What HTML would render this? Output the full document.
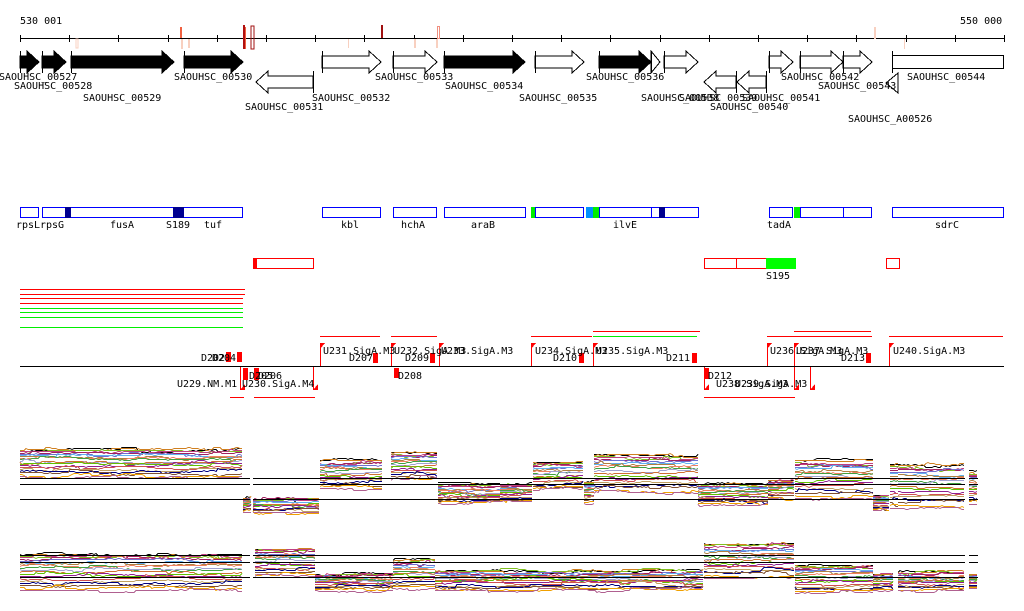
<!DOCTYPE html>
<html><head><meta charset="utf-8"><style>
html,body{margin:0;padding:0;background:#fff;width:1024px;height:611px;overflow:hidden}
svg{display:block}
text{font-family:"DejaVu Sans Mono","Liberation Mono",monospace;font-size:10px;fill:#000}
</style></head><body>
<svg id="s" width="1024" height="611" viewBox="0 0 1024 611" xmlns="http://www.w3.org/2000/svg" shape-rendering="crispEdges">
<text x="20" y="24">530 001</text>
<text x="960" y="24">550 000</text>
<line x1="20" y1="38.5" x2="1004" y2="38.5" stroke="#000"/>
<g id="ticks" stroke="#000"></g>
<rect x="76" y="39" width="2" height="9" fill="none" stroke="#f8d0c0"/>
<rect x="180" y="27" width="2" height="11" fill="#f06040"/>
<rect x="181" y="39" width="2" height="10" fill="#f8d0c0"/>
<rect x="188" y="39" width="2" height="9" fill="#f8d0c0"/>
<rect x="243" y="25" width="2" height="24" fill="#b01010"/>
<rect x="245" y="27" width="1" height="22" fill="#f06040"/>
<rect x="251" y="26" width="3" height="23" fill="none" stroke="#a01010"/>
<rect x="348" y="39" width="1" height="9" fill="#f8d0c0"/>
<rect x="381" y="25" width="2" height="13" fill="#a01010"/>
<rect x="414" y="39" width="2" height="9" fill="#f8d0c0"/>
<rect x="437.5" y="26.5" width="2" height="12" fill="none" stroke="#f09080"/>
<rect x="436" y="39" width="2" height="9" fill="#f8d0c0"/>
<rect x="874.5" y="27.5" width="1" height="11" fill="none" stroke="#f8d0c0"/>
<rect x="904" y="39" width="1" height="10" fill="#f8d0c0"/>
<g id="genes"></g>
<g>
<text x="-1" y="80">SAOUHSC_00527</text>
<text x="14" y="89">SAOUHSC_00528</text>
<text x="83" y="101">SAOUHSC_00529</text>
<text x="174" y="80">SAOUHSC_00530</text>
<text x="245" y="110">SAOUHSC_00531</text>
<text x="312" y="101">SAOUHSC_00532</text>
<text x="375" y="80">SAOUHSC_00533</text>
<text x="445" y="89">SAOUHSC_00534</text>
<text x="519" y="101">SAOUHSC_00535</text>
<text x="586" y="80">SAOUHSC_00536</text>
<text x="641" y="101">SAOUHSC_00538</text>
<text x="679" y="101">SAOUHSC_00539</text>
<text x="742" y="101">SAOUHSC_00541</text>
<text x="710" y="110">SAOUHSC_00540</text>
<text x="781" y="80">SAOUHSC_00542</text>
<text x="818" y="89">SAOUHSC_00543</text>
<text x="907" y="80">SAOUHSC_00544</text>
<text x="848" y="122">SAOUHSC_A00526</text>
</g>
<g fill="none" stroke="#0000ff">
<rect x="20.5" y="207.5" width="18" height="10"/>
<rect x="42.5" y="207.5" width="200" height="10"/>
<rect x="322.5" y="207.5" width="58" height="10"/>
<rect x="393.5" y="207.5" width="43" height="10"/>
<rect x="444.5" y="207.5" width="81" height="10"/>
<rect x="535.5" y="207.5" width="48" height="10"/>
<rect x="599.5" y="207.5" width="52" height="10"/>
<rect x="651.5" y="207.5" width="47" height="10"/>
<rect x="769.5" y="207.5" width="23" height="10"/>
<rect x="800.5" y="207.5" width="43" height="10"/>
<rect x="843.5" y="207.5" width="28" height="10"/>
<rect x="892.5" y="207.5" width="111" height="10"/>
</g>
<rect x="65" y="207" width="6" height="11" fill="#000090"/>
<rect x="173" y="207" width="11" height="11" fill="#000090"/>
<rect x="531" y="207" width="4" height="11" fill="#00ee00"/>
<rect x="586" y="207" width="7" height="11" fill="#0090ff"/>
<rect x="593" y="207" width="6" height="11" fill="#00ee00"/>
<rect x="659" y="207" width="6" height="11" fill="#000090"/>
<rect x="794" y="207" width="6" height="11" fill="#00ee00"/>
<text x="16" y="228">rpsL</text><text x="40" y="228">rpsG</text><text x="110" y="228">fusA</text>
<text x="166" y="228">S189</text><text x="204" y="228">tuf</text><text x="341" y="228">kbl</text>
<text x="401" y="228">hchA</text><text x="471" y="228">araB</text><text x="613" y="228">ilvE</text>
<text x="767" y="228">tadA</text><text x="935" y="228">sdrC</text>
<g fill="none" stroke="#ff0000">
<rect x="253.5" y="258.5" width="60" height="10"/>
<rect x="704.5" y="258.5" width="32" height="10"/>
<rect x="736.5" y="258.5" width="30" height="10"/>
<rect x="886.5" y="258.5" width="13" height="10"/>
</g>
<rect x="253" y="258" width="4" height="11" fill="#ff0000"/>
<rect x="766" y="258" width="30" height="11" fill="#00ff00"/>
<text x="766" y="279">S195</text>
<g stroke-width="1">
<line x1="20" y1="289.5" x2="245" y2="289.5" stroke="#f00"/>
<line x1="20" y1="294.5" x2="245" y2="294.5" stroke="#f00"/>
<line x1="20" y1="298.5" x2="243" y2="298.5" stroke="#f00"/>
<line x1="20" y1="303.5" x2="243" y2="303.5" stroke="#f00"/>
<line x1="20" y1="308.5" x2="243" y2="308.5" stroke="#0e0"/>
<line x1="20" y1="312.5" x2="243" y2="312.5" stroke="#0e0"/>
<line x1="20" y1="317.5" x2="243" y2="317.5" stroke="#0e0"/>
<line x1="20" y1="327.5" x2="243" y2="327.5" stroke="#0e0"/>
</g>
<line x1="20" y1="366.5" x2="1004" y2="366.5" stroke="#000"/>
<g stroke="#f00">
<line x1="320" y1="336.5" x2="380" y2="336.5"/><line x1="391" y1="336.5" x2="437" y2="336.5"/>
<line x1="531" y1="336.5" x2="592" y2="336.5"/><line x1="593" y1="331.5" x2="700" y2="331.5"/>
<line x1="767" y1="336.5" x2="872" y2="336.5"/><line x1="794" y1="331.5" x2="871" y2="331.5"/>
<line x1="889" y1="336.5" x2="1003" y2="336.5"/>
<line x1="230" y1="397.5" x2="244" y2="397.5"/><line x1="254" y1="397.5" x2="315" y2="397.5"/>
<line x1="704" y1="397.5" x2="795" y2="397.5"/>
</g>
<line x1="593" y1="336.5" x2="697" y2="336.5" stroke="#0e0"/>
<g id="marks"></g>
<g>
<text x="201" y="361">D202</text><text x="212" y="361">D204</text>
<text x="249" y="379">D205</text><text x="258" y="379">D206</text>
<text x="177" y="387">U229.NM.M1</text><text x="242" y="387">U230.SigA.M4</text>
<text x="323" y="354">U231.SigA.M3</text><text x="349" y="361">D207</text>
<text x="394" y="354">U232.SigA.M3</text><text x="405" y="361">D209</text>
<text x="441" y="354">U233.SigA.M3</text><text x="398" y="379">D208</text>
<text x="535" y="354">U234.SigA.M3</text><text x="553" y="361">D210</text>
<text x="596" y="354">U235.SigA.M3</text><text x="666" y="361">D211</text>
<text x="708" y="379">D212</text>
<text x="716" y="387">U238.SigA.M3</text><text x="735" y="387">U239.SigA.M3</text>
<text x="770" y="354">U236.SigA.M3</text><text x="796" y="354">U237.SigA.M3</text>
<text x="841" y="361">D213</text><text x="893" y="354">U240.SigA.M3</text>
</g>
<g id="plots"></g>
</svg>
<script>
var NS="http://www.w3.org/2000/svg";
function el(p,t,a){var e=document.createElementNS(NS,t);for(var k in a)e.setAttribute(k,a[k]);p.appendChild(e);return e;}
var tk=document.getElementById("ticks");
for(var i=0;i<=20;i++){var x=Math.round(20+49.2*i)+0.5;el(tk,"line",{x1:x,y1:35,x2:x,y2:42});}
var g=document.getElementById("genes");
function fwd(x1,x2,fill){var h=Math.min(12,x2-x1);var d="M"+x1+" 56 L"+(x2-h)+" 56 L"+(x2-h)+" 51 L"+x2+" 62 L"+(x2-h)+" 73 L"+(x2-h)+" 68 L"+x1+" 68 Z";
el(g,"path",{d:d,fill:fill?"#000":"#fff",stroke:"#000","stroke-width":1});el(g,"line",{x1:x1+0.5,y1:51,x2:x1+0.5,y2:73,stroke:"#000"});}
function rev(x1,x2,y){var h=Math.min(12,x2-x1);var d="M"+x2+" "+(y-6)+" L"+(x1+h)+" "+(y-6)+" L"+(x1+h)+" "+(y-11)+" L"+x1+" "+y+" L"+(x1+h)+" "+(y+11)+" L"+(x1+h)+" "+(y+6)+" L"+x2+" "+(y+6)+" Z";
el(g,"path",{d:d,fill:"#fff",stroke:"#000"});el(g,"line",{x1:x2+0.5,y1:y-11,x2:x2+0.5,y2:y+11,stroke:"#000"});}
fwd(20,39,1);fwd(42,66,1);fwd(71,174,1);fwd(184,243,1);fwd(322,381,0);fwd(393,437,0);fwd(444,525,1);
fwd(535,584,0);fwd(599,651,1);fwd(651,660,0);fwd(664,698,0);fwd(769,793,0);fwd(800,843,0);fwd(843,872,0);
el(g,"rect",{x:892.5,y:55.5,width:111,height:13,fill:"#fff",stroke:"#000"});el(g,"line",{x1:892.5,y1:51,x2:892.5,y2:73,stroke:"#000"});
rev(256,313,82);rev(704,736,82);rev(737,766,82);
el(g,"path",{d:"M886 83 L898 73 L898 93 Z",fill:"#fff",stroke:"#000"});
var m=document.getElementById("marks");
function up(x,top){el(m,"line",{x1:x+0.5,y1:top,x2:x+0.5,y2:366,stroke:"#f00"});el(m,"path",{d:"M"+x+" "+top+" L"+(x+5)+" "+top+" L"+x+" "+(top+6)+"Z",fill:"#f00"});}
function dn(x,bot){el(m,"line",{x1:x+0.5,y1:367,x2:x+0.5,y2:bot,stroke:"#f00"});el(m,"path",{d:"M"+x+" "+bot+" L"+(x+5)+" "+bot+" L"+(x+5)+" "+(bot-6)+"Z",fill:"#f00"});}
function rb(x,y1,y2){el(m,"rect",{x:x,y:y1,width:5,height:y2-y1,fill:"#f00"});}
up(320,343);up(391,343);up(439,343);up(531,343);up(593,343);up(767,343);up(794,343);up(889,343);
dn(313,390);dn(240,390);dn(794,390);dn(810,390);dn(704,390);
rb(226,352,362);rb(237,352,362);rb(243,368,380);rb(254,368,380);rb(373,353,363);rb(430,353,363);rb(394,368,378);
rb(579,353,363);rb(692,353,363);rb(704,368,379);rb(866,353,363);
var P=document.getElementById("plots");
var cols=["#e06020","#d08020","#80c020","#c04080","#a02060","#7070d0","#60b0f0","#b08040","#f08060","#40a040","#a0a0d0","#d07030","#60c000","#902090","#d05050","#c0a060","#000080","#805030","#f0a000","#b06090"];
var seed=7;function rnd(){seed=(seed*16807)%2147483647;return seed/2147483647;}
function bundle(x1,x2,yt,yb,n){for(var i=0;i<n;i++){var f=i/(n-1);f=Math.pow(f,1.3);var base=yt+2+(yb-yt-4)*f;var pts=[];var y=base;
for(var x=x1;x<=x2;x+=2){var r=rnd();if(r<0.08)y+=(rnd()-0.5)*5;else y+=(rnd()-0.5)*0.8;y+=(base-y)*0.05;y=Math.max(yt,Math.min(yb,y));pts.push(x+","+Math.round(y)+".5");}
el(P,"polyline",{points:pts.join(" "),fill:"none",stroke:i==0?"#000":cols[i%cols.length],"stroke-width":1});}}
var s1=[[20,243,447,478],[243,252,495,514],[253,320,497,514],[320,383,458,490],[391,438,450,482],[438,500,482,505],[500,532,482,503],[533,584,460,492],[584,594,480,505],[594,698,452,495],[698,768,482,506],[768,795,478,500],[795,873,458,500],[873,890,493,512],[890,898,462,510],[898,965,462,510],[969,978,470,505]];
s1.forEach(function(s){bundle(s[0],s[1],s[2],s[3],20);});
var s2=[[20,243,552,592],[255,315,547,578],[315,393,572,592],[393,435,558,590],[435,704,568,592],[704,795,541,580],[795,873,563,595],[873,893,572,592],[898,965,570,592],[969,978,572,590]];
s2.forEach(function(s){bundle(s[0],s[1],s[2],s[3],20);});
[478.5,484.5,499.5,555.5,562.5,577.5].forEach(function(y){el(P,"line",{x1:20,y1:y,x2:250,y2:y,stroke:"#000"});el(P,"line",{x1:253,y1:y,x2:965,y2:y,stroke:"#000"});el(P,"line",{x1:969,y1:y,x2:978,y2:y,stroke:"#000"});});
</script>
</body></html>
